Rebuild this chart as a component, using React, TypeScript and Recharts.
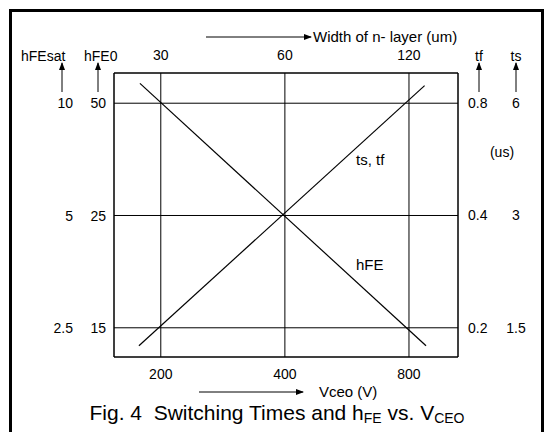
import { CartesianGrid, Line, LineChart, XAxis, YAxis } from "recharts";

// Vceo (V) along the bottom, n- layer width (um) along the top; both log.
const vceoTicks = [200, 400, 800];
const widthTicks = [30, 60, 120];
const vceoDomain = [154, 1052];
const widthDomain = [23.1, 157.8];

// Right side: tf / ts (us). Left side: hFEsat / hFE0.
const tfTicks = [0.2, 0.4, 0.8];
const tsLabels = ["1.5", "3", "6"];
const tfDomain = [0.167, 0.964];
const hfeSatTicks = [2.5, 5, 10];
const hfe0Labels = ["15", "25", "50"];
const hfeSatDomain = [2.09, 12.05];

// the two straight lines
const tsVceo = [177, 873];
const tsTf = [0.179, 0.892];
const hfeVceo = [178, 880];
const hfeSat = [11.3, 2.24];

const tsData = tsVceo.map((x, i) => ({ x, y: tsTf[i] }));
const hfeData = hfeVceo.map((x, i) => ({ x, y: hfeSat[i] }));
// no series on the top axis, so give it its tick values to hold the scale
const widthData = widthTicks.map((x) => ({ x }));

const FONT = "'Liberation Sans', Arial, sans-serif";
const INK = "#000";

function LeftTick(props: any) {
  const { x, y, payload } = props;
  const i = hfeSatTicks.indexOf(payload.value);
  return (
    <g fontFamily={FONT} fontSize={14} fill={INK}>
      <text x={x - 33} y={y + 5} textAnchor="end">{payload.value}</text>
      <text x={x} y={y + 5} textAnchor="end">{hfe0Labels[i]}</text>
    </g>
  );
}

function RightTick(props: any) {
  const { x, y, payload } = props;
  const i = tfTicks.indexOf(payload.value);
  return (
    <g fontFamily={FONT} fontSize={14} fill={INK}>
      <text x={x + 2} y={y + 5} textAnchor="start">{payload.value}</text>
      <text x={x + 50} y={y + 5} textAnchor="middle">{tsLabels[i]}</text>
    </g>
  );
}

function Arrow({ x1, y1, x2, y2 }: { x1: number; y1: number; x2: number; y2: number }) {
  return <line x1={x1} y1={y1} x2={x2} y2={y2} stroke={INK} strokeWidth={1} markerEnd="url(#head)" />;
}

export default function App() {
  const tickStyle = { fill: INK, fontSize: 14, fontFamily: FONT };
  return (
    <div style={{ position: "absolute", left: 0, top: 0, width: 547, height: 432, overflow: "hidden", background: "#fff" }}>
      <div
        style={{
          position: "absolute",
          left: 9,
          top: 9,
          width: 529,
          height: 440,
          border: "3px solid #000",
        }}
      />
      <div style={{ position: "absolute", left: 0, top: 0 }}>
        <LineChart width={547} height={432} margin={{ top: 43, right: 29, bottom: 45, left: 54 }}>
          <CartesianGrid xAxisId="bottom" yAxisId="t" stroke={INK} strokeWidth={1} />
          <XAxis
            xAxisId="bottom"
            dataKey="x"
            type="number"
            scale="log"
            domain={vceoDomain}
            ticks={vceoTicks}
            allowDataOverflow
            height={30}
            tickLine={false}
            axisLine={{ stroke: INK }}
            tick={tickStyle}
            tickMargin={6}
          />
          <XAxis
            xAxisId="top"
            dataKey="x"
            orientation="top"
            type="number"
            scale="log"
            domain={widthDomain}
            ticks={widthTicks}
            allowDataOverflow
            height={30}
            tickLine={false}
            axisLine={{ stroke: INK }}
            tick={tickStyle}
            tickMargin={7}
          />
          <YAxis
            yAxisId="hfe"
            type="number"
            scale="log"
            domain={hfeSatDomain}
            ticks={hfeSatTicks}
            allowDataOverflow
            width={60}
            tickLine={false}
            axisLine={{ stroke: INK }}
            tick={<LeftTick />}
          />
          <YAxis
            yAxisId="t"
            orientation="right"
            type="number"
            scale="log"
            domain={tfDomain}
            ticks={tfTicks}
            allowDataOverflow
            width={60}
            tickLine={false}
            axisLine={{ stroke: INK }}
            tick={<RightTick />}
          />
          <Line
            xAxisId="top"
            yAxisId="t"
            data={widthData}
            dataKey="y"
            stroke="none"
            dot={false}
            isAnimationActive={false}
          />
          <Line
            xAxisId="bottom"
            yAxisId="t"
            data={tsData}
            dataKey="y"
            stroke={INK}
            strokeWidth={1.2}
            dot={false}
            isAnimationActive={false}
          />
          <Line
            xAxisId="bottom"
            yAxisId="hfe"
            data={hfeData}
            dataKey="y"
            stroke={INK}
            strokeWidth={1.2}
            dot={false}
            isAnimationActive={false}
          />
        </LineChart>
      </div>
      <svg
        width={547}
        height={432}
        style={{ position: "absolute", left: 0, top: 0, pointerEvents: "none" }}
        fontFamily={FONT}
        fill={INK}
      >
        <defs>
          <marker id="head" viewBox="0 0 8 6" refX={7} refY={3} markerWidth={8} markerHeight={6} markerUnits="userSpaceOnUse" orient="auto">
            <path d="M0,0 L8,3 L0,6 z" fill={INK} />
          </marker>
        </defs>
        <text x={21} y={61} fontSize={14}>hFEsat</text>
        <text x={84} y={61} fontSize={14}>hFE0</text>
        <Arrow x1={62} y1={92} x2={62} y2={63} />
        <Arrow x1={98} y1={92} x2={98} y2={63} />
        <text x={479} y={61} fontSize={14} textAnchor="middle">tf</text>
        <text x={516} y={61} fontSize={14} textAnchor="middle">ts</text>
        <Arrow x1={479} y1={92} x2={479} y2={63} />
        <Arrow x1={516} y1={92} x2={516} y2={63} />
        <text x={502} y={157} fontSize={14} textAnchor="middle">(us)</text>
        <Arrow x1={206} y1={37} x2={311} y2={37} />
        <text x={313} y={42} fontSize={15}>Width of n- layer (um)</text>
        <Arrow x1={199} y1={392} x2={303} y2={392} />
        <text x={319} y={397} fontSize={15}>Vceo (V)</text>
        <text x={356} y={165} fontSize={15}>ts, tf</text>
        <text x={356} y={270} fontSize={15}>hFE</text>
        <text x={277} y={420} fontSize={21} textAnchor="middle" xmlSpace="preserve">
          Fig. 4  Switching Times and h
          <tspan fontSize={14} dy={3}>FE</tspan>
          <tspan dy={-3}> vs. V</tspan>
          <tspan fontSize={14} dy={3}>CEO</tspan>
        </text>
      </svg>
    </div>
  );
}
